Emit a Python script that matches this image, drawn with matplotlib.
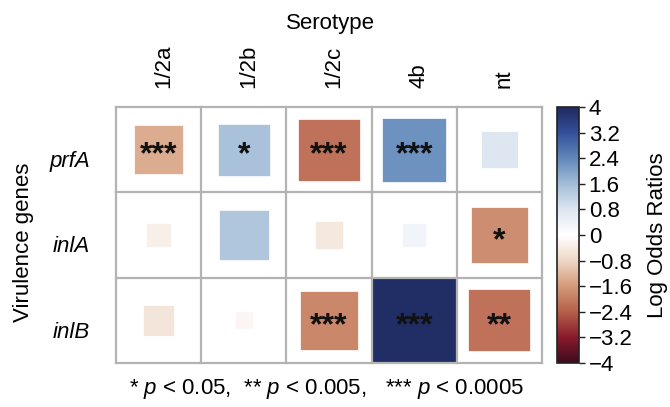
import matplotlib
matplotlib.use("Agg")
import matplotlib.pyplot as plt
import numpy as np
from matplotlib.colors import LinearSegmentedColormap, Normalize
from matplotlib.patches import Rectangle

plt.rcParams['font.family'] = ['Liberation Sans', 'DejaVu Sans']
plt.rcParams['mathtext.fontset'] = 'custom'
plt.rcParams['mathtext.rm'] = 'Liberation Sans'
plt.rcParams['mathtext.it'] = 'Liberation Sans:italic'

serotypes = ['1/2a', '1/2b', '1/2c', '4b', 'nt']
genes = ['prfA', 'inlA', 'inlB']

# log odds ratios, rows = genes, cols = serotypes
log_or = np.array([
    [-1.35, 1.50, -2.13, 2.23, 0.77],
    [-0.34, 1.41, -0.46, 0.32, -1.77],
    [-0.52, -0.18, -1.87, 3.90, -2.13],
])
stars = [
    ['***', '*', '***', '***', ''],
    ['', '', '', '', '*'],
    ['', '', '***', '***', '**'],
]

# muted red-white-blue palette like the original
cmap = LinearSegmentedColormap.from_list('rdbu_muted', [
    (0.0, '#3d0c1c'), (0.1, '#8a1a2b'), (0.2, '#b5604a'), (0.3, '#d49a7a'),
    (0.4, '#eed7c6'), (0.5, '#ffffff'), (0.6, '#dde6f0'), (0.7, '#a3bdd8'),
    (0.8, '#6187ba'), (0.9, '#34509a'), (1.0, '#1f2a5e')])
norm = Normalize(-4, 4)

W, H = 670, 407
FS = 16
fig = plt.figure(figsize=(W / 100, H / 100), dpi=100)

def px_axes(x0, y0, x1, y1):
    return fig.add_axes([x0 / W, 1 - y1 / H, (x1 - x0) / W, (y1 - y0) / H])

ax = px_axes(116, 107, 542, 363)
ax.set_xlim(0, len(serotypes))
ax.set_ylim(len(genes), 0)
ax.axis('off')

for i in range(len(genes)):
    for j in range(len(serotypes)):
        v = log_or[i, j]
        s = np.sqrt(abs(v) / 4)
        ax.add_patch(Rectangle((j + 0.5 - s / 2, i + 0.5 - s / 2), s, s,
                               facecolor=cmap(norm(v)), edgecolor='white',
                               linewidth=0.5, zorder=2))
        if stars[i][j]:
            ax.text(j + 0.5, i + 0.57, stars[i][j], ha='center', va='center',
                    fontsize=23, fontweight='bold', color='#111111', zorder=4)

for k in range(len(serotypes) + 1):
    ax.plot([k, k], [0, len(genes)], color='#b3b3b3', lw=1.6, zorder=3,
            clip_on=False, solid_capstyle='projecting')
for k in range(len(genes) + 1):
    ax.plot([0, len(serotypes)], [k, k], color='#b3b3b3', lw=1.6, zorder=3,
            clip_on=False, solid_capstyle='projecting')

# column labels
for j, name in enumerate(serotypes):
    fig.text((116 + 85.2 * (j + 0.5) + 5) / W, 1 - 88 / H, name, rotation=90,
             ha='center', va='bottom', fontsize=FS)
fig.text(330 / W, 1 - 24 / H, 'Serotype', ha='center', va='center', fontsize=FS)

# row labels
for i, name in enumerate(genes):
    fig.text(90 / W, 1 - (161 + 86 * i) / H, name, ha='right', va='center',
             fontsize=FS, style='italic')
fig.text(24 / W, 1 - 242 / H, 'Virulence genes', rotation=90, ha='center',
         va='center', fontsize=FS)

# colorbar
cax = px_axes(557, 107, 579, 363)
cb = fig.colorbar(plt.cm.ScalarMappable(norm=norm, cmap=cmap), cax=cax)
ticks = np.round(np.arange(-4, 4.01, 0.8), 1)
cb.set_ticks(ticks)
labels = []
for t in ticks:
    t = 0.0 if abs(t) < 1e-9 else t
    labels.append(('%g' % t).replace('-', '\u2212'))
cb.set_ticklabels(labels)
cb.ax.tick_params(labelsize=FS, length=4, width=1, color='#222222', pad=3)
cb.outline.set_linewidth(1.2)
cb.outline.set_edgecolor('#222222')
fig.text(657 / W, 1 - 235 / H, 'Log Odds Ratios', rotation=90, ha='center',
         va='center', fontsize=FS)

fig.text(327 / W, 1 - 389 / H,
         '* $p$ < 0.05,  ** $p$ < 0.005,   *** $p$ < 0.0005',
         ha='center', va='center', fontsize=FS)

fig.savefig('out.png', dpi=100)
